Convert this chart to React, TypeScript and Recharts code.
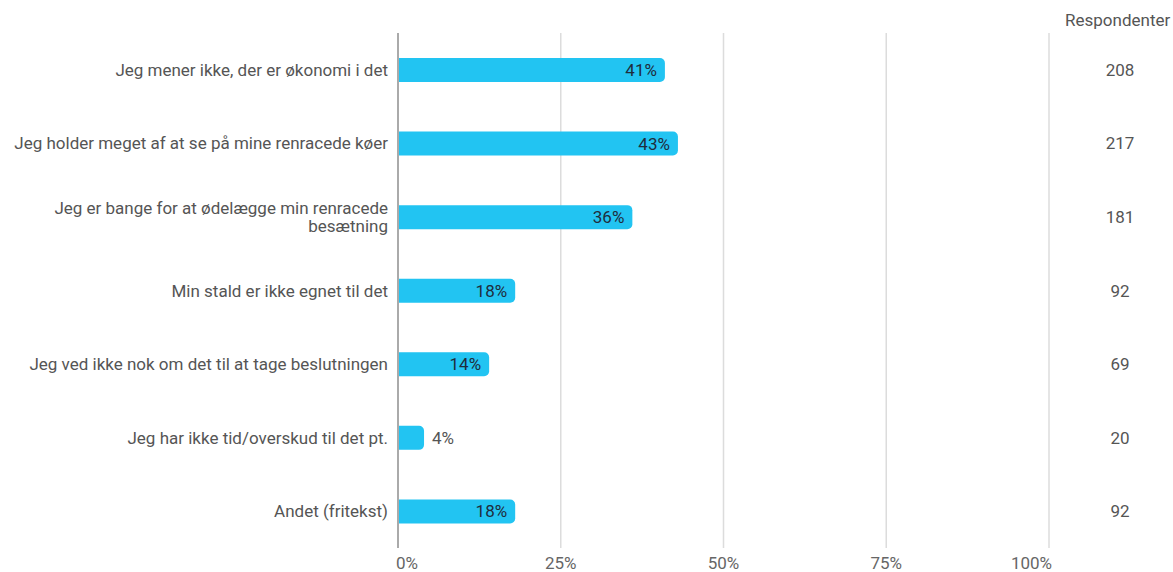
import React from 'react';
import { BarChart, Bar, XAxis, YAxis, CartesianGrid, LabelList } from 'recharts';

const categories = [
  'Jeg mener ikke, der er økonomi i det',
  'Jeg holder meget af at se på mine renracede køer',
  'Jeg er bange for at ødelægge min renracede besætning',
  'Min stald er ikke egnet til det',
  'Jeg ved ikke nok om det til at tage beslutningen',
  'Jeg har ikke tid/overskud til det pt.',
  'Andet (fritekst)',
];
const percentages = [41, 43, 36, 18, 14, 4, 18];
const respondents = [208, 217, 181, 92, 69, 20, 92];
const xTicks = [0, 25, 50, 75, 100];

const data = categories.map((c, i) => ({ category: c, value: percentages[i], respondents: respondents[i] }));

const FONT = 'Roboto, sans-serif';
const FS = 17;
const MAX_CHARS = 48;

function wrapLabel(s: string): string[] {
  if (s.length <= MAX_CHARS) return [s];
  const words = s.split(' ');
  const lines: string[] = [];
  let cur = '';
  for (const w of words) {
    const next = cur ? cur + ' ' + w : w;
    if (next.length > 42 && cur) {
      lines.push(cur);
      cur = w;
    } else {
      cur = next;
    }
  }
  if (cur) lines.push(cur);
  return lines;
}

const LeftTick = (props: any) => {
  const { x, y, payload } = props;
  const lines = wrapLabel(String(payload.value));
  const lh = 18;
  const startDy = 6 - ((lines.length - 1) * lh) / 2;
  return (
    <text x={x} y={y} textAnchor="end" fontSize={FS} fontFamily={FONT} fill="#555">
      {lines.map((l, i) => (
        <tspan key={i} x={x} dy={i === 0 ? startDy : lh}>
          {l}
        </tspan>
      ))}
    </text>
  );
};

const RightTick = (props: any) => {
  const { x, y, payload } = props;
  return (
    <text x={x + 71} y={y} dy={6} textAnchor="middle" fontSize={FS} fontFamily={FONT} fill="#555">
      {payload.value}
    </text>
  );
};

const XTick = (props: any) => {
  const { x, y, payload } = props;
  const anchor = payload.value === 0 ? 'start' : payload.value === 100 ? 'end' : 'middle';
  const dx = payload.value === 0 ? -2 : payload.value === 100 ? 3 : 0;
  return (
    <text x={x + dx} y={y} dy={13} textAnchor={anchor} fontSize={FS} fontFamily={FONT} fill="#666">
      {payload.value + '%'}
    </text>
  );
};

const BarLabel = (props: any) => {
  const { x, y, width, height, value } = props;
  const inside = value > 8;
  return (
    <text
      x={inside ? x + width - 8 : x + width + 8}
      y={y + height / 2}
      dy={6}
      textAnchor={inside ? 'end' : 'start'}
      fontSize={FS}
      fontFamily={FONT}
      fill={inside ? '#1f2d3d' : '#555'}
    >
      {value + '%'}
    </text>
  );
};

export default function App() {
  return (
    <div style={{ position: 'absolute', left: 0, top: 0, width: 1173, height: 572, background: '#fff', overflow: 'hidden' }}>
      <div
        style={{
          position: 'absolute',
          left: 1065,
          top: 10,
          width: 120,
          fontFamily: FONT,
          fontSize: FS,
          lineHeight: '20px',
          color: '#555',
          whiteSpace: 'nowrap',
        }}
      >
        Respondenter
      </div>
      <BarChart
        width={1173}
        height={572}
        data={data}
        layout="vertical"
        margin={{ top: 33, right: 0, bottom: 0, left: 0 }}
      >
        <CartesianGrid horizontal={false} stroke="#dcdcdc" strokeWidth={1.5} />
        <XAxis
          type="number"
          dataKey="value"
          domain={[0, 100]}
          ticks={xTicks}
          axisLine={false}
          tickLine={false}
          height={24}
          tick={<XTick />}
          interval={0}
        />
        <YAxis
          yAxisId="left"
          type="category"
          dataKey="category"
          width={398}
          axisLine={{ stroke: '#aaa', strokeWidth: 2 }}
          tickLine={false}
          tickMargin={4}
          tick={<LeftTick />}
          interval={0}
        />
        <YAxis
          yAxisId="right"
          orientation="right"
          type="category"
          dataKey="respondents"
          width={124}
          axisLine={false}
          tickLine={false}
          tickSize={0}
          tickMargin={0}
          tick={<RightTick />}
          interval={0}
        />
        <Bar
          yAxisId="left"
          dataKey="value"
          fill="#22c4f2"
          barSize={24}
          radius={[0, 5, 5, 0]}
          isAnimationActive={false}
        >
          <LabelList dataKey="value" content={<BarLabel />} />
        </Bar>
      </BarChart>
    </div>
  );
}
